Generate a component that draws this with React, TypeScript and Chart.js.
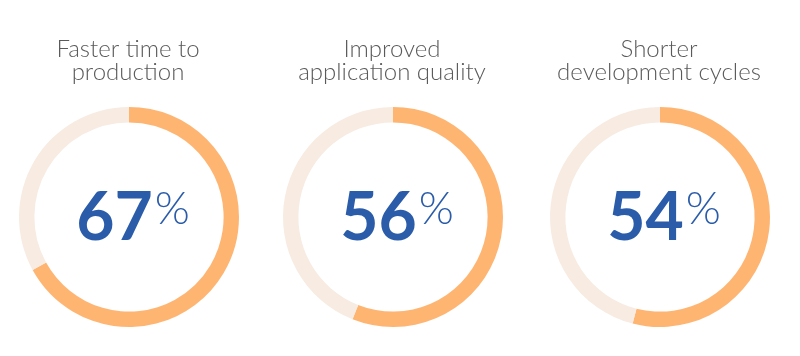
import React, { useEffect, useRef } from "react";
import { Chart, registerables } from "chart.js";

Chart.register(...registerables);

const titles: string[][] = [
  ["Faster time to", "production"],
  ["Improved", "application quality"],
  ["Shorter", "development cycles"],
];
const percents: number[] = [67, 56, 54];
const centersX: number[] = [129, 393, 660];

const ORANGE = "#FFB572";
const LIGHT = "#F7EBE2";
const BLUE = "#2A5CAA";
const GRAY = "#5A5A5A";

const CANVAS_W = 266;
const CANVAS_H = 356;

function Donut({ idx }: { idx: number }) {
  const ref = useRef<HTMLCanvasElement | null>(null);
  useEffect(() => {
    if (!ref.current) return;
    const value = percents[idx];
    const lines = titles[idx];
    const textPlugin = {
      id: "texts",
      afterDraw(chart: any) {
        const ctx = chart.ctx;
        const meta = chart.getDatasetMeta(0);
        const arc = meta.data[0];
        const cx = arc.x;
        const cy = arc.y;
        ctx.save();
        // titles
        ctx.fillStyle = GRAY;
        ctx.font = "300 24px Lato, 'Open Sans', sans-serif";
        ctx.textAlign = "center";
        ctx.textBaseline = "alphabetic";
        ctx.fillText(lines[0], cx - 1, 57);
        ctx.fillText(lines[1], cx - 1, 80);
        // center number
        const numStr = String(value);
        const numFont = "bold 66px Lato, 'Open Sans', sans-serif";
        const pctFont = "300 45px Lato, 'Open Sans', sans-serif";
        ctx.font = numFont;
        const nw = ctx.measureText(numStr).width;
        ctx.font = pctFont;
        const pw = ctx.measureText("%").width;
        const gap = 2;
        const total = nw + gap + pw;
        const left = cx + 4 - total / 2;
        ctx.textAlign = "left";
        ctx.fillStyle = BLUE;
        ctx.font = numFont;
        ctx.fillText(numStr, left, cy + 23);
        ctx.font = pctFont;
        ctx.fillText("%", left + nw + gap, cy + 7);
        ctx.restore();
      },
    };
    const chart = new Chart(ref.current, {
      type: "doughnut",
      data: {
        labels: ["Yes", "No"],
        datasets: [
          {
            data: [value, 100 - value],
            backgroundColor: [ORANGE, LIGHT],
            borderWidth: 0,
          },
        ],
      },
      options: {
        animation: false,
        responsive: false,
        cutout: "86%",
        layout: { padding: { top: 107, bottom: 29, left: 0, right: 0 } },
        plugins: {
          legend: { display: false },
          tooltip: { enabled: false },
          title: { display: false },
        },
      },
      plugins: [textPlugin],
    });
    return () => chart.destroy();
  }, [idx]);
  return (
    <canvas
      ref={ref}
      width={CANVAS_W}
      height={CANVAS_H}
      style={{
        position: "absolute",
        left: centersX[idx] - CANVAS_W / 2,
        top: 0,
        width: CANVAS_W,
        height: CANVAS_H,
      }}
    />
  );
}

export default function App() {
  return (
    <div
      style={{
        position: "fixed",
        left: 0,
        top: 0,
        width: 800,
        height: 356,
        background: "#ffffff",
        overflow: "hidden",
      }}
    >
      {percents.map((_, i) => (
        <Donut key={i} idx={i} />
      ))}
    </div>
  );
}
